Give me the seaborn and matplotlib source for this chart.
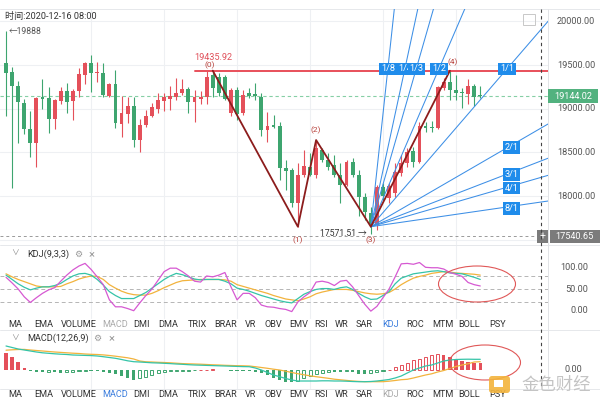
import matplotlib
matplotlib.use("Agg")
import matplotlib.pyplot as plt
import matplotlib.transforms as mtransforms
from matplotlib.patches import Rectangle, Ellipse, FancyBboxPatch
from matplotlib.lines import Line2D
import numpy as np
import pandas as pd
import seaborn as sns

# ---------------- data ----------------
opens = [19520, 19424, 19260, 19069, 18765, 18612, 19131, 19123, 18886, 19092,
         19200, 19092, 19206, 19386, 19527, 19412, 19412, 19146, 19283, 18825,
         18940, 19031, 18642, 18814, 18917, 18997, 19092, 19108, 19138, 19177,
         19222, 19081, 19115, 19131, 19386, 19367, 19367, 18955, 19214, 18948,
         19177, 19165, 19138, 18757, 18814, 18803, 18319, 18299, 17918, 18242,
         18337, 18242, 18528, 18414, 18356, 18242, 18128, 18394, 18242, 17994,
         17804, 17670, 18105, 17979, 18036, 18265, 18379, 18517, 18391, 18803,
         18795, 18776, 19234, 19309, 19214, 19195, 19169, 19260, 19157]
closes = [19412, 19260, 19081, 18765, 18612, 19123, 19115, 18886, 19100, 19200,
          19081, 19206, 19397, 19527, 19412, 19424, 19157, 19283, 18833, 18948,
          19031, 18642, 18814, 18917, 19017, 19100, 19131, 19146, 19184, 19222,
          19081, 19131, 19131, 19360, 19237, 19177, 19108, 19214, 18940, 19157,
          19146, 19146, 18757, 18806, 18795, 18319, 18291, 17918, 18242, 18345,
          18242, 18547, 18414, 18337, 18242, 18128, 18394, 18242, 17994, 17822,
          17670, 18105, 18002, 18116, 18276, 18379, 18505, 18391, 18803, 18785,
          18776, 19245, 19309, 19214, 19177, 19177, 19260, 19138, 19144.02]
highs = [19888, 19481, 19321, 19115, 18978, 19131, 19337, 19252, 19108, 19252,
         19298, 19222, 19463, 19535, 19615, 19538, 19520, 19298, 19443, 19146,
         19138, 19138, 18883, 18986, 19069, 19177, 19177, 19260, 19348, 19337,
         19245, 19214, 19206, 19432, 19435.92, 19405, 19386, 19234, 19245, 19214,
         19234, 19298, 19177, 18966, 18928, 18852, 18414, 18319, 18376, 18528,
         18490, 18642, 18547, 18490, 18471, 18376, 18414, 18433, 18299, 18033,
         17879, 18128, 18150, 18150, 18376, 18471, 18551, 18562, 18848, 18848,
         18860, 19260, 19348, 19430, 19386, 19237, 19337, 19283, 19260]
lows = [18917, 18090, 18612, 18711, 18444, 18330, 18994, 18726, 18772, 19054,
        18948, 18871, 19138, 19283, 19195, 19302, 19131, 19131, 18776, 18680,
        18833, 18559, 18509, 18791, 18906, 18948, 18978, 18986, 19100, 19157,
        18955, 18852, 19054, 19054, 19131, 19146, 19100, 18917, 18871, 18928,
        19119, 19100, 18688, 18623, 18776, 18185, 18070, 17879, 17651, 18223,
        18231, 18204, 18394, 18299, 18223, 17918, 18116, 18223, 17773, 17727,
        17571.51, 17613, 17956, 17922, 17990, 18231, 18334, 18334, 18379, 18737,
        18737, 18765, 19214, 19100, 19100, 19009, 19054, 19031, 19123]

k_vals = [82, 72, 62, 54, 48, 52, 55, 55, 58, 63, 72, 80, 85, 86, 82, 72, 59, 44, 35, 28,
          28, 28, 35, 42, 52, 62, 72, 80, 86, 83, 78, 73, 71, 72, 72, 72, 68, 62, 52, 49,
          45, 40, 35, 31, 27, 23, 20, 18, 28, 38, 44, 49, 51, 51, 49, 53, 55, 49, 40, 32,
          26, 27, 35, 44, 62, 75, 80, 85, 87, 89, 91, 92, 90, 87, 86, 85, 81, 77, 72]
d_vals = [85, 78, 72, 67, 62, 57, 55, 55, 55, 56, 62, 67, 73, 77, 80, 79, 72, 60, 52, 45,
          40, 37, 36, 36, 40, 46, 53, 59, 65, 69, 70, 71, 72, 72, 72, 72, 71, 68, 60, 56,
          52, 48, 44, 40, 35, 31, 27, 25, 23, 27, 32, 39, 43, 46, 49, 49, 49, 47, 44, 41,
          39, 38, 39, 42, 50, 60, 68, 75, 79, 82, 86, 88, 90, 89, 87, 86, 85, 84, 82]
j_vals = [77, 64, 50, 32, 19, 30, 40, 48, 53, 68, 82, 94, 103, 109, 95, 78, 60, 25, 9, 9,
          5, 0, 18, 35, 50, 70, 90, 98, 98, 90, 80, 68, 66, 80, 78, 82, 88, 55, 25, 40,
          40, 30, 13, 9, 8, 5, 3, -2, 20, 32, 42, 66, 68, 65, 58, 68, 70, 55, 35, 15,
          -1, 10, 30, 50, 78, 108, 109, 107, 111, 100, 99, 99, 96, 88, 84, 79, 65, 60, 57]

dif_vals = [240, 225, 210, 200, 190, 180, 172, 167, 162, 158, 155, 150, 148, 146, 144, 140, 133, 125, 117, 105,
            92, 83, 80, 76, 72, 70, 67, 64, 60, 57, 53, 50, 48, 46, 44, 42, 40, 38, 36, 34,
            33, 20, 0, -25, -50, -67, -85, -100, -110, -110, -110, -110, -108, -108, -110, -110, -112, -115, -117, -117,
            -115, -110, -103, -95, -80, -60, -30, 0, 20, 40, 50, 70, 90, 100, 105, 107, 108, 107, 107]
dea_vals = [198, 202, 205, 206, 200, 195, 190, 185, 180, 176, 172, 168, 165, 160, 157, 155, 151, 145, 138, 130,
            122, 110, 90, 82, 80, 77, 75, 72, 68, 64, 62, 60, 58, 55, 52, 50, 47, 45, 43, 42,
            40, 33, 25, 17, 8, 0, -12, -25, -37, -48, -58, -67, -75, -83, -92, -98, -104, -110, -114, -117,
            -117, -117, -117, -112, -105, -97, -93, -80, -65, -50, -38, -20, -5, 15, 35, 50, 62, 80, 83]
hist_vals = [167, 127, 83, 17, -10, -15, -20, -18, -20, -25, -20, -15, -10, -8, -8, -10, -15, -25, -35, -60,
             -80, -100, -80, -65, -50, -33, -20, -12, -8, -6, -5, -3, 3, 5, 6, 5, 3, -5, -8, -10,
             -12, -18, -30, -50, -80, -100, -117, -117, -110, -80, -60, -40, -25, -18, -20, -22, -12, -15, -35, -40,
             -25, -15, -8, 5, 33, 50, 73, 100, 107, 133, 150, 160, 150, 127, 107, 93, 80, 73, 67]

price_ticks = [20000, 19500, 19000, 18500, 18000, 17500]
kdj_ticks = [100, 50, 0]
last_price = 19144.02
cross_price = 17540.65
peak_price = 19435.92
low_price = 17571.51
high_price = 19888

wave_idx = [34, 48, 51, 60, 73]
wave_price = [19435.92, 17651, 18642, 17651, 19435]
wave_labels = ["(0)", "(1)", "(2)", "(3)", "(4)"]

fan_origin_idx = 60
fan_origin_price = 17651
fan_unit = 80.6          # price per bar of the 1/1 line
fan_steep = [("1/8", 8), ("1/4", 4), ("1/3", 3), ("1/2", 2), ("1/1", 1)]
fan_flat = [("2/1", 1 / 2), ("3/1", 1 / 3), ("4/1", 1 / 4), ("8/1", 1 / 8)]

tabs = ["MA", "EMA", "VOLUME", "MACD", "DMI", "DMA", "TRIX", "BRAR", "VR", "OBV",
        "EMV", "RSI", "WR", "SAR", "KDJ", "ROC", "MTM", "BOLL", "PSY"]
tab_x = [15, 44, 78.5, 115, 141.6, 168, 197, 226, 250.7, 273.6,
         298.5, 321.5, 341.8, 363.6, 390.4, 415.2, 442.8, 468.8, 497.5]

# ---------------- style ----------------
sns.set_theme(style="white")
plt.rcParams['font.family'] = ['Roboto', 'Noto Sans CJK SC', 'DejaVu Sans']
plt.rcParams['axes.unicode_minus'] = False

RED = '#e4505a'
GREEN = '#3ea56f'
BLUE_LINE = '#3d8fe6'
BLUE_BOX = '#1f8ceb'
WAVE = '#8c1c1c'
GRID = '#eef0f3'
TXT = '#555555'
FS = 6.6

W, H = 600, 403
fig = plt.figure(figsize=(6, 4.03), dpi=100)
fig.patch.set_facecolor('white')
pixT = mtransforms.Affine2D().scale(1 / W, -1 / H).translate(0, 1) + fig.transFigure


def box(x0, y0, x1, y1):
    return [x0 / W, 1 - y1 / H, (x1 - x0) / W, (y1 - y0) / H]


ax = fig.add_axes(box(0, 9, 548, 244))
ax_k = fig.add_axes(box(0, 245, 548, 318))
ax_m = fig.add_axes(box(0, 330, 548, 388))
for a in (ax, ax_k, ax_m):
    a.set_xlim(-0.99, 89.14)
    a.set_axis_off()
ax.set_ylim(17453, 20141)
ax_k.set_ylim(-16.8, 151.4)
ax_m.set_ylim(-180, 400)

# vertical grid (pixel positions of the chart's time grid)
for gx in [91, 163.5, 236.5, 309.5, 382.5, 455.5]:
    for (y0, y1) in [(9, 244), (245, 318), (330, 388)]:
        fig.add_artist(Line2D([gx, gx], [y0, y1], transform=pixT, color=GRID, lw=0.8, zorder=0))
for p in price_ticks:
    ax.axhline(p, color=GRID, lw=0.8, zorder=0)

# separators
for yy in [9, 244.5, 329.5, 388.5]:
    fig.add_artist(Line2D([0, 600], [yy, yy], transform=pixT, color='#e6e8eb', lw=0.7, zorder=0))
fig.add_artist(Line2D([548, 548], [9, 388], transform=pixT, color='#e2e4e7', lw=0.7, zorder=0))

# ---------------- candles ----------------
df = pd.DataFrame({'i': np.arange(len(opens)), 'open': opens, 'close': closes,
                   'high': highs, 'low': lows})
up = df['close'] >= df['open']
cols = np.where(up, RED, GREEN)
ax.vlines(df['i'], df['low'], df['high'], colors=cols, lw=0.8, zorder=3)
body = np.maximum((df['close'] - df['open']).abs(), 10)
ax.bar(df['i'], body, bottom=np.minimum(df['open'], df['close']), width=0.64,
       color=cols, linewidth=0, zorder=4)

# reference lines
ax.axhline(last_price, color='#86cfa5', lw=0.8, ls=(0, (3, 2.5)), zorder=2)
ax.axhline(cross_price, color='#9a9a9a', lw=0.7, ls=(0, (3, 3)), zorder=2)
ax.plot([31, 89.2], [peak_price, peak_price], color='#e84f5a', lw=1.4, zorder=5)

# wave (zigzag)
ax.plot(wave_idx, wave_price, color=WAVE, lw=1.3, zorder=6)
ax.annotate("19435.92", (wave_idx[0] + 0.1, peak_price), xytext=(0, 9.5), textcoords='offset points',
            color='#e0505a', fontsize=FS, ha='center', va='center', zorder=7)
label_off = [(-0.5, 4.2), (0, -10), (0, 7), (0, -10), (0.4, 6)]
for (xi, pr, lab, (dx, dy)) in zip(wave_idx, wave_price, wave_labels, label_off):
    ax.annotate(lab, (xi + dx, pr), xytext=(0, dy), textcoords='offset points',
                ha='center', va='center', fontsize=FS - 0.6, color='#b8423c', zorder=7)

# fan
xe = 89.2
for lab, m in fan_steep + fan_flat:
    ax.plot([fan_origin_idx, xe], [fan_origin_price, fan_origin_price + fan_unit * m * (xe - fan_origin_idx)],
            color=BLUE_LINE, lw=0.75, zorder=5)
for lab, m in fan_steep:
    xi = fan_origin_idx + (19455 - fan_origin_price) / (fan_unit * m)
    ax.text(xi, 19455, lab, fontsize=FS, color='white', ha='center', va='center', zorder=8,
            bbox=dict(boxstyle='square,pad=0.18', fc=BLUE_BOX, ec='none'))
for lab, m in fan_flat:
    xi = 83.1
    ax.text(xi, fan_origin_price + fan_unit * m * (xi - fan_origin_idx) - 25, lab, fontsize=FS,
            color='white', ha='center', va='center', zorder=8,
            bbox=dict(boxstyle='square,pad=0.18', fc=BLUE_BOX, ec='none'))

# high / low markers
ax.text(0.45, high_price, "\u2190" + str(high_price), fontsize=FS - 0.4, color=TXT,
        ha='left', va='center', zorder=7)
ax.text(59.3, low_price, f"{low_price:.2f} \u2192", fontsize=FS - 0.4, color='#333333',
        ha='right', va='center', zorder=7)

# price axis
blend = mtransforms.blended_transform_factory(fig.transFigure, ax.transData)
for p in price_ticks[:-1]:
    ax.text(557 / W, p, f"{p:.2f}", transform=blend, fontsize=FS, color=TXT, ha='left', va='center',
            clip_on=False)
ax.add_patch(Rectangle((548 / W, last_price - 82), 50 / W, 164, transform=blend, fc='#52b27f',
                       ec='none', clip_on=False, zorder=9))
ax.text(573 / W, last_price, f"{last_price:.2f}", transform=blend, fontsize=FS, color='white',
        ha='center', va='center', clip_on=False, zorder=10)
ax.add_patch(Rectangle((549.5 / W, cross_price - 75), 50.5 / W, 150, transform=blend, fc='#7b7b7b',
                       ec='none', clip_on=False, zorder=9))
ax.add_patch(Rectangle((537 / W, cross_price - 75), 11 / W, 150, transform=blend, fc='#7b7b7b',
                       ec='none', clip_on=False, zorder=9))
ax.text(574.5 / W, cross_price, f"{cross_price:.2f}", transform=blend, fontsize=FS, color='white',
        ha='center', va='center', clip_on=False, zorder=10)
ax.text(542.5 / W, cross_price, "+", transform=blend, fontsize=FS + 1, color='white',
        ha='center', va='center', clip_on=False, zorder=10)

# ---------------- KDJ ----------------
dk = pd.DataFrame({'i': np.arange(len(k_vals)), 'K': k_vals, 'D': d_vals, 'J': j_vals})
for lv in [80, 50, 20]:
    ax_k.axhline(lv, color='#b5b5b5', lw=0.7, ls=(0, (4, 3)), zorder=1)
sns.lineplot(data=dk, x='i', y='D', ax=ax_k, color='#f2b33d', lw=0.9, legend=False, zorder=3)
sns.lineplot(data=dk, x='i', y='K', ax=ax_k, color='#35c4a8', lw=0.9, legend=False, zorder=4)
sns.lineplot(data=dk, x='i', y='J', ax=ax_k, color='#d659d2', lw=0.9, legend=False, zorder=5)
ax_k.set_axis_off()
blend_k = mtransforms.blended_transform_factory(fig.transFigure, ax_k.transData)
for t in kdj_ticks:
    ax_k.text(588 / W, t, f"{t:.2f}", transform=blend_k, fontsize=FS, color=TXT, ha='right',
              va='center', clip_on=False)

# ---------------- MACD ----------------
dm = pd.DataFrame({'i': np.arange(len(dif_vals)), 'DIF': dif_vals, 'DEA': dea_vals, 'HIST': hist_vals})
prev = np.r_[dm['HIST'].iloc[0] + 1, dm['HIST'].values[:-1]]
for i, v, pv in zip(dm['i'], dm['HIST'], prev):
    c = RED if v >= 0 else GREEN
    hv = v if abs(v) >= 4 else (4 if v >= 0 else -4)
    if v > pv:
        ax_m.bar(i, hv, width=0.5, facecolor='white', edgecolor=c, linewidth=0.7, zorder=3)
    else:
        ax_m.bar(i, hv, width=0.56, color=c, linewidth=0, zorder=3)
sns.lineplot(data=dm, x='i', y='DEA', ax=ax_m, color='#f2b33d', lw=0.9, legend=False, zorder=4)
sns.lineplot(data=dm, x='i', y='DIF', ax=ax_m, color='#35c4a8', lw=0.9, legend=False, zorder=5)
ax_m.set_axis_off()
blend_m = mtransforms.blended_transform_factory(fig.transFigure, ax_m.transData)
ax_m.text(582 / W, 0, "0.00", transform=blend_m, fontsize=FS, color=TXT, ha='right',
          va='center', clip_on=False)

# ---------------- chrome ----------------
fig.text(5 / W, 1 - 16.5 / H, "时间:2020-12-16 08:00", fontsize=FS, color='#333333', ha='left', va='center')
fig.add_artist(Rectangle((523, 14), 12, 11, transform=pixT, fill=False, ec='#c8c8c8', lw=0.7))
fig.add_artist(Line2D([541, 541], [9, 388], transform=pixT, color='#444444', lw=0.8,
                      ls=(0, (3, 3)), zorder=6))

for (ty, title, gx, xx) in [(254, "KDJ(9,3,3)", 78, 92), (338.5, "MACD(12,26,9)", 97.6, 112)]:
    fig.text(15 / W, 1 - ty / H, "\u2228", fontsize=FS - 1, color='#888888', ha='center', va='center')
    fig.text(27 / W, 1 - ty / H, title, fontsize=FS, color='#333333', ha='left', va='center')
    fig.text(gx / W, 1 - ty / H, "\u2699", fontsize=FS, color='#999999', ha='center', va='center')
    fig.text(xx / W, 1 - ty / H, "\u00d7", fontsize=FS + 1.5, color='#999999', ha='center', va='center')

for (ry, hi, dim) in [(324.5, "KDJ", "MACD"), (394.5, "MACD", "KDJ")]:
    for name, x in zip(tabs, tab_x):
        c = '#3b7ddd' if name == hi else ('#aaaaaa' if name == dim else '#333333')
        fig.text(x / W, 1 - ry / H, name, fontsize=FS, color=c, ha='center', va='center')

fig.add_artist(Ellipse((477, 284), 77, 36, transform=pixT, fill=False, ec='#e05858', lw=0.8, zorder=8))
fig.add_artist(Ellipse((485, 362.5), 71, 35, transform=pixT, fill=False, ec='#e05858', lw=0.8, zorder=8))

# watermark
fig.add_artist(FancyBboxPatch((489, 376), 21, 17, boxstyle='round,pad=0,rounding_size=3',
                              transform=pixT, fc='#f3b43c', ec='none', alpha=0.9, zorder=9))
fig.add_artist(Rectangle((494, 380), 9, 7, transform=pixT, fc='white', ec='none', zorder=10))
fig.text(556 / W, 1 - 384.5 / H, "金色财经", fontsize=12.5, color='#c4c4c4', ha='center', va='center',
         family=['Noto Sans CJK SC', 'DejaVu Sans'], zorder=10)

fig.savefig("out.png", dpi=100, facecolor='white')
